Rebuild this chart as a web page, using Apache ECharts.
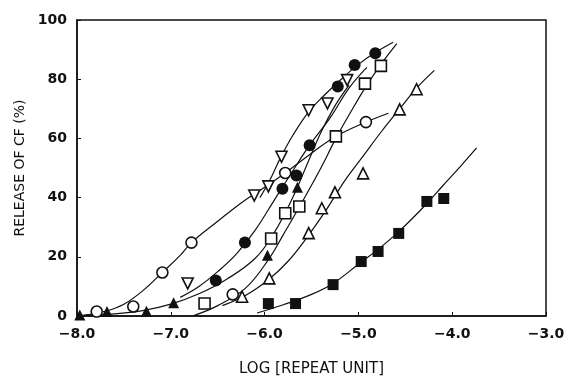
<!DOCTYPE html>
<html>
<head>
<meta charset="utf-8">
<script src="https://cdn.jsdelivr.net/npm/echarts@6/dist/echarts.min.js"></script>
<style>
  html, body { margin: 0; padding: 0; background: #fff; }
  #chart { width: 569px; height: 378px; }
</style>
</head>
<body>
<div id="chart"></div>
<script>
// measured points [log repeat unit, release %]
const openCircle = [[-7.79, 1.5], [-7.40, 3.2], [-7.09, 14.7], [-6.78, 24.8], [-6.34, 7.3], [-5.78, 48.3], [-4.92, 65.5]];
const openDown = [[-6.82, 11], [-6.11, 40.7], [-5.96, 43.8], [-5.82, 53.8], [-5.53, 69.5], [-5.33, 71.8], [-5.12, 79.7]];
const filledCircle = [[-6.52, 12], [-6.21, 24.8], [-5.81, 43], [-5.66, 47.5], [-5.52, 57.7], [-5.22, 77.5], [-5.04, 84.8], [-4.82, 88.8]];
const filledUp = [[-7.97, 0.3], [-7.68, 1.5], [-7.26, 1.6], [-6.97, 4.5], [-5.97, 20.5], [-5.65, 43.5]];
const openSquare = [[-6.64, 4.2], [-5.93, 26.2], [-5.78, 34.7], [-5.63, 37], [-5.24, 60.7], [-4.93, 78.5], [-4.76, 84.5]];
const openUp = [[-6.24, 6.5], [-5.95, 12.7], [-5.53, 28], [-5.39, 36.4], [-5.25, 41.8], [-4.95, 48.2], [-4.56, 69.8], [-4.38, 76.6]];
const filledSquare = [[-5.96, 4.2], [-5.67, 4.2], [-5.27, 10.6], [-4.97, 18.4], [-4.79, 21.8], [-4.57, 27.9], [-4.27, 38.7], [-4.09, 39.7]];

// fitted curves
const curveOpenCircle = [[-7.92, 0.3], [-7.7, 1.6], [-7.5, 4], [-7.3, 8.5], [-7.09, 14.7], [-6.9, 20.5], [-6.78, 24.8], [-6.5, 32], [-6.25, 38.2], [-6.0, 43.5], [-5.78, 48.3], [-5.5, 55], [-5.25, 60.5], [-4.92, 65.5], [-4.68, 68.5]];
const curveOpenDown = [[-6.05, 40], [-5.95, 45.5], [-5.83, 53.5], [-5.7, 61], [-5.53, 69], [-5.35, 75], [-5.2, 79.5], [-5.0, 85], [-4.82, 89], [-4.63, 92.5]];
const curveFilledCircle = [[-6.9, 6.3], [-6.7, 10], [-6.5, 15], [-6.3, 21], [-6.1, 29], [-5.9, 39], [-5.7, 49], [-5.52, 57.7], [-5.3, 67], [-5.1, 77], [-4.91, 84]];
const curveFilledUp = [[-7.95, 0.2], [-7.6, 0.7], [-7.3, 1.8], [-7.0, 4], [-6.7, 7.5], [-6.4, 12.5], [-6.1, 19.5], [-5.9, 28], [-5.7, 40], [-5.55, 51], [-5.4, 62], [-5.25, 71], [-5.1, 78]];
const curveOpenSquare = [[-6.75, 0.2], [-6.5, 3.5], [-6.2, 9.5], [-5.95, 19.5], [-5.8, 27.5], [-5.6, 38.5], [-5.4, 50], [-5.24, 60], [-5.08, 69], [-4.93, 77], [-4.76, 85], [-4.59, 92]];
const curveOpenUp = [[-6.45, 3.5], [-6.2, 7], [-5.95, 12.5], [-5.75, 18.5], [-5.55, 26.5], [-5.35, 35.5], [-5.15, 45.5], [-4.95, 54], [-4.75, 62.5], [-4.56, 70], [-4.38, 77], [-4.19, 83]];
const curveFilledSquare = [[-6.08, 1], [-5.8, 3.8], [-5.5, 7.3], [-5.27, 11], [-5.0, 17.5], [-4.79, 22.5], [-4.57, 28.5], [-4.3, 37], [-4.1, 44], [-3.9, 51], [-3.74, 56.8]];

const xTicks = [-8, -7, -6, -5, -4, -3];
const xTickLabels = ['\u22128.0', '\u22127.0', '\u22126.0', '\u22125.0', '\u22124.0', '\u22123.0'];

const chart = echarts.init(document.getElementById('chart'));

const font = 'DejaVu Sans, Verdana, sans-serif';
const ink = '#111';

function curve(data) {
  return {
    type: 'line',
    data: data,
    smooth: 0.4,
    showSymbol: false,
    lineStyle: { color: ink, width: 1.2 },
    z: 2,
    silent: true,
  };
}

function marks(data, symbol, filled, rotate, size) {
  return {
    type: 'scatter',
    data: data,
    symbol: symbol,
    symbolSize: size,
    symbolRotate: rotate,
    itemStyle: {
      color: filled ? ink : '#fff',
      borderColor: ink,
      borderWidth: filled ? 0 : 1.6,
      opacity: 1,
    },
    z: 5,
  };
}

chart.setOption({
  animation: false,
  grid: {
    left: 77, right: 23, top: 20, bottom: 62,
    outerBoundsMode: 'none',
    show: true, borderColor: ink, borderWidth: 1.5,
  },
  xAxis: {
    type: 'value',
    min: -8, max: -3, interval: 1,
    name: 'LOG [REPEAT UNIT]',
    nameLocation: 'middle',
    nameGap: 46,
    nameTextStyle: { color: ink, fontFamily: font, fontSize: 15 },
    axisLine: { lineStyle: { color: ink, width: 1.5 } },
    axisTick: { inside: true, length: 4, lineStyle: { color: ink } },
    axisLabel: {
      color: ink, fontFamily: font, fontSize: 14, fontWeight: 'bold', margin: 11,
      formatter: v => xTickLabels[xTicks.indexOf(Math.round(v))] || '',
    },
    splitLine: { show: false },
  },
  yAxis: {
    type: 'value',
    min: 0, max: 100, interval: 20,
    name: 'RELEASE OF CF (%)',
    nameLocation: 'middle',
    nameGap: 42,
    nameTextStyle: { color: ink, fontFamily: font, fontSize: 14 },
    axisLine: { lineStyle: { color: ink, width: 1.5 } },
    axisTick: { inside: true, length: 4, lineStyle: { color: ink } },
    axisLabel: { color: ink, fontFamily: font, fontSize: 14, fontWeight: 'bold', margin: 10 },
    splitLine: { show: false },
  },
  series: [
    curve(curveOpenCircle),
    curve(curveOpenDown),
    curve(curveFilledCircle),
    curve(curveFilledUp),
    curve(curveOpenSquare),
    curve(curveOpenUp),
    curve(curveFilledSquare),
    marks(openCircle, 'circle', false, 0, 11),
    marks(openDown, 'triangle', false, 180, 11),
    marks(filledCircle, 'circle', true, 0, 12),
    marks(filledUp, 'triangle', true, 0, 11),
    marks(openSquare, 'rect', false, 0, 11),
    marks(openUp, 'triangle', false, 0, 11),
    marks(filledSquare, 'rect', true, 0, 11),
  ],
});
</script>
</body>
</html>
